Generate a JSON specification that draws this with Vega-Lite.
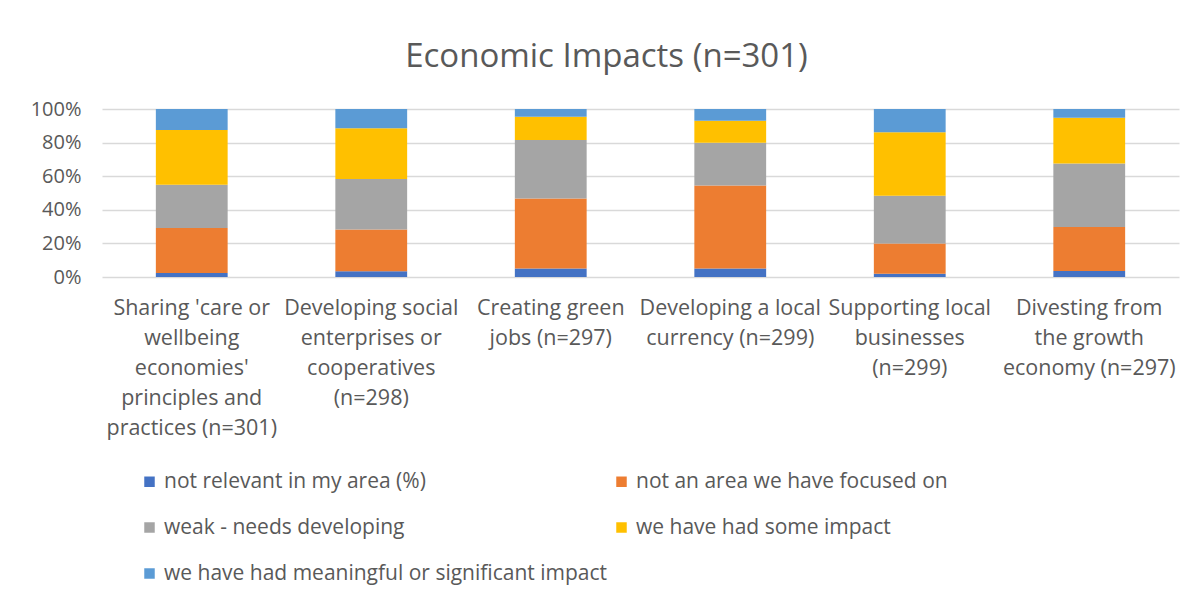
{
  "$schema": "https://vega.github.io/schema/vega-lite/v6.json",
  "width": 1077,
  "height": 168,
  "autosize": {"type": "none"},
  "padding": {"left": 102, "top": 109, "right": 20, "bottom": 323},
  "background": "white",
  "title": {
    "text": "Economic Impacts (n=301)",
    "fontSize": 33,
    "font": "Open Sans",
    "fontWeight": "normal",
    "color": "#595959",
    "anchor": "middle",
    "dx": -34,
    "offset": 25
  },
  "data": {
    "values": [
      {"c": "Sharing 'care or|wellbeing|economies'|principles and|practices (n=301)", "s": "not relevant in my area (%)", "k": 1, "v": 2.4},
      {"c": "Sharing 'care or|wellbeing|economies'|principles and|practices (n=301)", "s": "not an area we have focused on", "k": 2, "v": 26.8},
      {"c": "Sharing 'care or|wellbeing|economies'|principles and|practices (n=301)", "s": "weak - needs developing", "k": 3, "v": 25.7},
      {"c": "Sharing 'care or|wellbeing|economies'|principles and|practices (n=301)", "s": "we have had some impact", "k": 4, "v": 32.6},
      {"c": "Sharing 'care or|wellbeing|economies'|principles and|practices (n=301)", "s": "we have had meaningful or significant impact", "k": 5, "v": 12.5},
      {"c": "Developing social|enterprises or|cooperatives|(n=298)", "s": "not relevant in my area (%)", "k": 1, "v": 3.4},
      {"c": "Developing social|enterprises or|cooperatives|(n=298)", "s": "not an area we have focused on", "k": 2, "v": 24.8},
      {"c": "Developing social|enterprises or|cooperatives|(n=298)", "s": "weak - needs developing", "k": 3, "v": 30.1},
      {"c": "Developing social|enterprises or|cooperatives|(n=298)", "s": "we have had some impact", "k": 4, "v": 30.2},
      {"c": "Developing social|enterprises or|cooperatives|(n=298)", "s": "we have had meaningful or significant impact", "k": 5, "v": 11.5},
      {"c": "Creating green|jobs (n=297)", "s": "not relevant in my area (%)", "k": 1, "v": 5.0},
      {"c": "Creating green|jobs (n=297)", "s": "not an area we have focused on", "k": 2, "v": 41.7},
      {"c": "Creating green|jobs (n=297)", "s": "weak - needs developing", "k": 3, "v": 34.8},
      {"c": "Creating green|jobs (n=297)", "s": "we have had some impact", "k": 4, "v": 13.9},
      {"c": "Creating green|jobs (n=297)", "s": "we have had meaningful or significant impact", "k": 5, "v": 4.6},
      {"c": "Developing a local|currency (n=299)", "s": "not relevant in my area (%)", "k": 1, "v": 5.0},
      {"c": "Developing a local|currency (n=299)", "s": "not an area we have focused on", "k": 2, "v": 49.5},
      {"c": "Developing a local|currency (n=299)", "s": "weak - needs developing", "k": 3, "v": 25.4},
      {"c": "Developing a local|currency (n=299)", "s": "we have had some impact", "k": 4, "v": 13.1},
      {"c": "Developing a local|currency (n=299)", "s": "we have had meaningful or significant impact", "k": 5, "v": 7.0},
      {"c": "Supporting local|businesses|(n=299)", "s": "not relevant in my area (%)", "k": 1, "v": 2.0},
      {"c": "Supporting local|businesses|(n=299)", "s": "not an area we have focused on", "k": 2, "v": 17.9},
      {"c": "Supporting local|businesses|(n=299)", "s": "weak - needs developing", "k": 3, "v": 28.4},
      {"c": "Supporting local|businesses|(n=299)", "s": "we have had some impact", "k": 4, "v": 37.8},
      {"c": "Supporting local|businesses|(n=299)", "s": "we have had meaningful or significant impact", "k": 5, "v": 13.9},
      {"c": "Divesting from|the growth|economy (n=297)", "s": "not relevant in my area (%)", "k": 1, "v": 3.6},
      {"c": "Divesting from|the growth|economy (n=297)", "s": "not an area we have focused on", "k": 2, "v": 26.2},
      {"c": "Divesting from|the growth|economy (n=297)", "s": "weak - needs developing", "k": 3, "v": 37.8},
      {"c": "Divesting from|the growth|economy (n=297)", "s": "we have had some impact", "k": 4, "v": 27.2},
      {"c": "Divesting from|the growth|economy (n=297)", "s": "we have had meaningful or significant impact", "k": 5, "v": 5.2}
    ]
  },
  "mark": {"type": "bar"},
  "encoding": {
    "x": {
      "field": "c",
      "type": "nominal",
      "sort": null,
      "scale": {"paddingInner": 0.6, "paddingOuter": 0.3},
      "axis": {
        "title": null,
        "labelAngle": 0,
        "labelExpr": "split(datum.label, '|')",
        "labelLineHeight": 30,
        "labelFontSize": 21.5,
        "labelFont": "Open Sans",
        "labelColor": "#595959",
        "labelPadding": 20,
        "labelLimit": 0,
        "domain": false,
        "ticks": false
      }
    },
    "y": {
      "field": "v",
      "type": "quantitative",
      "stack": "zero",
      "scale": {"domain": [0, 100], "nice": false},
      "axis": {
        "title": null,
        "values": [0, 20, 40, 60, 80, 100],
        "labelExpr": "datum.value + '%'",
        "labelFontSize": 20,
        "labelFont": "Open Sans",
        "labelColor": "#595959",
        "labelPadding": 21,
        "domain": false,
        "ticks": false,
        "gridColor": "#d9d9d9",
        "gridWidth": 1.5
      }
    },
    "order": {"field": "k", "type": "quantitative"},
    "color": {
      "field": "s",
      "type": "nominal",
      "scale": {
        "domain": ["not relevant in my area (%)", "not an area we have focused on", "weak - needs developing", "we have had some impact", "we have had meaningful or significant impact"],
        "range": ["#4472C4", "#ED7D31", "#A5A5A5", "#FFC000", "#5B9BD5"]
      },
      "legend": {
        "title": null,
        "orient": "none",
        "legendX": 37,
        "legendY": 362,
        "direction": "horizontal",
        "columns": 2,
        "columnPadding": 4,
        "rowPadding": 24,
        "symbolType": "square",
        "symbolSize": 110,
        "symbolStrokeWidth": 0,
        "labelFontSize": 21,
        "labelFont": "Open Sans",
        "labelColor": "#595959",
        "labelLimit": 0,
        "labelOffset": 4
      }
    }
  },
  "config": {
    "view": {"stroke": null}
  }
}
